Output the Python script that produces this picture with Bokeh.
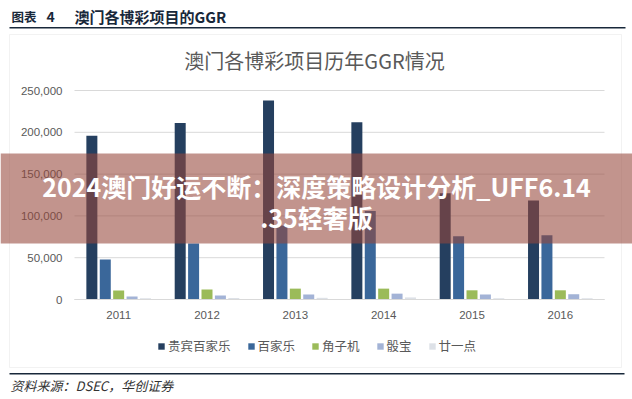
from bokeh.plotting import figure
from bokeh.models import (Range1d, Legend, LegendItem, Label, BoxAnnotation,
                          NumeralTickFormatter, FixedTicker)
from bokeh.transform import dodge
from bokeh.embed import file_html
from bokeh.resources import INLINE

years = [2011, 2012, 2013, 2014, 2015, 2016]
year_labels = ["2011", "2012", "2013", "2014", "2015", "2016"]
series_names = ["贵宾百家乐", "百家乐", "角子机", "骰宝", "廿一点"]
vip_baccarat = [196000, 211000, 238000, 212000, 127000, 118500]
baccarat = [47800, 67000, 88500, 106000, 75700, 77000]
slots = [10800, 12000, 13000, 13000, 11000, 11000]
sicbo = [3600, 4800, 6000, 7000, 6000, 6300]
blackjack = [1500, 1800, 2000, 2500, 1500, 1500]
series_values = [vip_baccarat, baccarat, slots, sicbo, blackjack]
colors = ["#253F5F", "#3A679A", "#9BBB59", "#A3B3D6", "#DDE1E7"]
y_ticks = [0, 50000, 100000, 150000, 200000, 250000]

W, H = 632, 399
# pixel geometry of the plotting area inside the full-canvas frame
PX_LEFT, PX_RIGHT, PX_TOP, PX_BOTTOM = 74, 604, 90, 299
slot = (PX_RIGHT - PX_LEFT) / len(years)
x_start = years[0] - 0.5 - PX_LEFT / slot
x_end = years[0] - 0.5 + (W - PX_LEFT) / slot
ymax = y_ticks[-1]
upp = ymax / (PX_BOTTOM - PX_TOP)
y_start = -(H - PX_BOTTOM) * upp
y_end = PX_BOTTOM * upp

p = figure(width=W, height=H, x_range=Range1d(x_start, x_end),
           y_range=Range1d(y_start, y_end), output_backend="svg",
           toolbar_location=None, min_border=0, min_border_left=0,
           min_border_right=0, min_border_top=0, min_border_bottom=0)
p.outline_line_color = None
p.background_fill_color = "white"
p.border_fill_color = "white"
p.xgrid.visible = False
p.ygrid.visible = False

lo, hi = years[0] - 0.5, years[-1] + 0.5
# horizontal gridlines at the tick values
p.segment(x0=[lo] * len(y_ticks), x1=[hi] * len(y_ticks), y0=y_ticks, y1=y_ticks,
          line_color="#D9D9D9", line_width=1)

data = {"year": years}
for i, vals in enumerate(series_values):
    data[f"s{i}"] = vals

step = 13.4 / slot
bw = 11 / slot
items = []
for i, name in enumerate(series_names):
    r = p.vbar(x=dodge("year", (i - 2) * step), top=f"s{i}", bottom=0,
               width=bw, source=data, color=colors[i], line_color=None)
    items.append(LegendItem(label=name, renderers=[r]))

# axes drawn at fixed locations inside the full-canvas frame
ya = p.yaxis[0]
ya.fixed_location = lo
ya.bounds = (0, ymax)
ya.ticker = FixedTicker(ticks=y_ticks)
ya.formatter = NumeralTickFormatter(format="0,0")
ya.axis_line_color = None
ya.major_tick_line_color = None
ya.minor_tick_line_color = None
ya.major_tick_out = 0
ya.major_tick_in = 0
ya.major_label_standoff = 12
ya.major_label_text_font = "Liberation Sans"
ya.major_label_text_font_size = "11.5px"
ya.major_label_text_color = "#595959"

xa = p.xaxis[0]
xa.fixed_location = 0
xa.bounds = (lo, hi)
xa.ticker = FixedTicker(ticks=years)
xa.major_label_overrides = {y: s for y, s in zip(years, year_labels)}
xa.axis_line_color = "#D9D9D9"
xa.major_tick_line_color = None
xa.minor_tick_line_color = None
xa.major_tick_out = 0
xa.major_tick_in = 0
xa.major_label_standoff = 11
xa.major_label_text_font = "Liberation Sans"
xa.major_label_text_font_size = "11.5px"
xa.major_label_text_color = "#595959"

legend = Legend(items=items, orientation="horizontal", location=(157, 44),
                glyph_width=8, glyph_height=8, label_standoff=3, spacing=16,
                padding=0, margin=0, label_height=14,
                label_text_font="Noto Sans CJK SC", label_text_font_size="12.5px",
                label_text_color="#595959", background_fill_alpha=0,
                border_line_color=None)
p.add_layout(legend, "center")

# decorations (canvas pixel units)
def box(l, r, t, b, **kw):
    p.add_layout(BoxAnnotation(left=l, right=r, top=t, bottom=b,
                               left_units="canvas", right_units="canvas",
                               top_units="canvas", bottom_units="canvas", **kw))

box(9, 621, 34, 367, fill_alpha=0, line_color="#D4D4D4", line_width=1)
box(9, 625, 26.5, 28, fill_color="#18283A", fill_alpha=1, line_color=None)
box(9, 624, 372.5, 374, fill_color="#18283A", fill_alpha=1, line_color=None)

def label(text, x, y, size, color, align="left", bold=False, italic=False,
          font="Noto Sans CJK SC"):
    style = "bold" if bold else ("italic" if italic else "normal")
    p.add_layout(Label(x=x, y=y, x_units="canvas", y_units="canvas", text=text,
                       text_font=font, text_font_size=size, text_color=color,
                       text_align=align, text_baseline="middle",
                       text_font_style=style))

label("图表", 11, 16, "12.5px", "#18283A", bold=True)
label("4", 46, 16, "14px", "#18283A", bold=True)
label("澳门各博彩项目的GGR", 74, 16, "15px", "#18283A", bold=True)
label("澳门各博彩项目历年GGR情况", 314, 60, "20px", "#595959", align="center")
label("资料来源：DSEC，华创证券", 10, 385, "13px", "#333333", italic=True)

# overlay banner
box(0, 632, 153, 243, fill_color="#96463A", fill_alpha=0.58, line_color=None)
label("2024澳门好运不断：深度策略设计分析_UFF6.14", 316, 185, "25px", "white",
      align="center", bold=True)
label(".35轻奢版", 316, 216, "25px", "white", align="center", bold=True)

open("out.html", "w").write(file_html(p, INLINE))
